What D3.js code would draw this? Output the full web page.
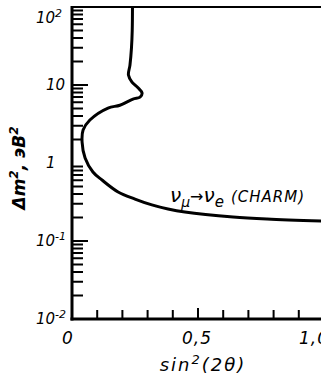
<!DOCTYPE html>
<html>
<head>
<meta charset="utf-8">
<script src="https://cdn.jsdelivr.net/npm/d3@7"></script>
<style>
  body { margin: 0; background: #fff; overflow: hidden; }
  svg { display: block; }
  text { font-family: "DejaVu Sans", sans-serif; font-style: italic; fill: #000; }
</style>
</head>
<body>
<svg id="chart"></svg>
<script>
const width = 321;
const height = 378;

// exclusion contour, nu_mu -> nu_e (CHARM)
const sin2 = [0.240, 0.239, 0.236, 0.230, 0.224, 0.238, 0.262, 0.278, 0.270, 0.242, 0.190, 0.143, 0.071, 0.044, 0.040, 0.052, 0.083, 0.119, 0.183, 0.250, 0.317, 0.381, 0.448, 0.639, 0.774, 0.99];
const dm2 = [100, 50, 30, 18, 13.4, 10.9, 9.2, 7.9, 7.0, 6.6, 5.5, 5.07, 3.56, 2.65, 1.86, 1.16, 0.767, 0.605, 0.425, 0.345, 0.29, 0.257, 0.235, 0.203, 0.191, 0.18];

const yMajor = [0.01, 0.1, 1, 10, 100];
const yLabels = [["10", "-2"], ["10", "-1"], ["1", ""], ["10", ""], ["10", "2"]];
const xTickVals = [0.1, 0.2, 0.3, 0.4, 0.5, 0.6, 0.7, 0.8, 0.9, 1.0];
const xLabelVals = [0, 0.5, 1.0];
const xLabels = ["0", "0,5", "1,0"];

const svg = d3.select("#chart")
  .attr("width", width)
  .attr("height", height);

const x = d3.scaleLinear().domain([0, 1]).range([72, 324]);
const y = d3.scaleLog().domain([0.01, 100]).range([319, 7]);

// minor log ticks
const minor = [];
yMajor.slice(0, -1).forEach(m => {
  for (let k = 2; k <= 9; k++) minor.push(m * k);
});

// frame and inward ticks in one path
const p = d3.path();
p.moveTo(width, y(100));
p.lineTo(x(0), y(100));
p.lineTo(x(0), y(0.01));
p.lineTo(width, y(0.01));
minor.forEach(v => { p.moveTo(x(0), y(v)); p.lineTo(x(0) + 11, y(v)); });
[0.1, 10].forEach(v => { p.moveTo(x(0), y(v)); p.lineTo(x(0) + 16, y(v)); });
xTickVals.forEach(v => { p.moveTo(x(v), y(0.01)); p.lineTo(x(v), y(0.01) - (v === 0.5 ? 11 : 9)); });
svg.append("path")
  .attr("d", p.toString())
  .attr("fill", "none")
  .attr("stroke", "#000")
  .attr("stroke-width", 2);

// thicker left and bottom axes
svg.append("line")
  .attr("x1", x(0)).attr("x2", x(0))
  .attr("y1", y(100) - 1).attr("y2", y(0.01) + 1.5)
  .attr("stroke", "#000").attr("stroke-width", 3);
svg.append("line")
  .attr("x1", x(0) - 1.5).attr("x2", width)
  .attr("y1", y(0.01)).attr("y2", y(0.01))
  .attr("stroke", "#000").attr("stroke-width", 3);

// y tick labels
yMajor.forEach((v, i) => {
  const [base, sup] = yLabels[i];
  const t = svg.append("text")
    .attr("x", sup ? 36 : 46)
    .attr("y", v === 100 ? y(v) + 16 : y(v) + 5)
    .attr("font-size", 15);
  t.append("tspan").text(base);
  if (sup) t.append("tspan").attr("dy", -6).attr("font-size", 11).text(sup);
});

// x tick labels
const xNudge = [-4, -1, -10];
xLabelVals.forEach((v, i) => {
  svg.append("text")
    .attr("x", x(v) + xNudge[i])
    .attr("y", 344)
    .attr("text-anchor", "middle")
    .attr("font-size", 17)
    .attr("letter-spacing", 1)
    .text(xLabels[i]);
});

// axis titles
const xt = svg.append("text")
  .attr("x", 203)
  .attr("y", 371)
  .attr("text-anchor", "middle")
  .attr("font-size", 18)
  .attr("letter-spacing", 2);
xt.append("tspan").text("sin");
xt.append("tspan").attr("dy", -7).attr("font-size", 13).text("2");
xt.append("tspan").attr("dy", 7).text("(2θ)");

const yt = svg.append("text")
  .attr("transform", "translate(25,168) rotate(-90)")
  .attr("text-anchor", "middle")
  .attr("font-size", 17)
  .attr("font-weight", "bold");
yt.append("tspan").text("Δm");
yt.append("tspan").attr("dy", -7).attr("font-size", 12).text("2");
yt.append("tspan").attr("dy", 7).text(", эВ");
yt.append("tspan").attr("dy", -7).attr("font-size", 12).text("2");

// contour
const pts = sin2.map((s, i) => [s, dm2[i]]);
svg.append("path")
  .datum(pts)
  .attr("fill", "none")
  .attr("stroke", "#000")
  .attr("stroke-width", 3)
  .attr("stroke-linejoin", "round")
  .attr("d", d3.line().x(d => x(d[0])).y(d => y(d[1])).curve(d3.curveCatmullRom.alpha(0.5)));

// curve label
const lab = svg.append("text")
  .attr("x", 170)
  .attr("y", 202)
  .attr("font-size", 15);
lab.append("tspan").attr("font-size", 20).text("ν");
lab.append("tspan").attr("dy", 5).attr("font-size", 14).text("μ");
lab.append("tspan").attr("dy", -5).attr("font-size", 16).text("→");
lab.append("tspan").attr("font-size", 20).text("ν");
lab.append("tspan").attr("dy", 5).attr("font-size", 15).text("e");
lab.append("tspan").attr("dy", -5).attr("dx", 7).attr("letter-spacing", 1).text("(CHARM)");
</script>
</body>
</html>
